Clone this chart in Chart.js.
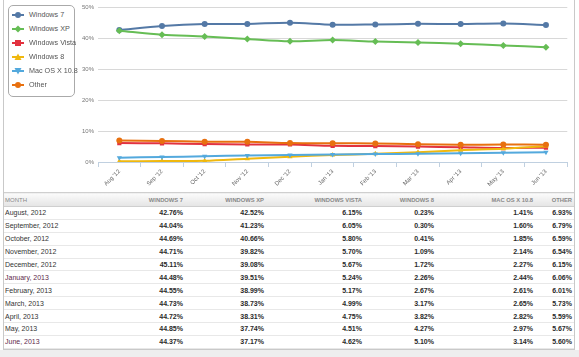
<!DOCTYPE html>
<html><head><meta charset="utf-8">
<script src="https://cdn.jsdelivr.net/npm/chart.js@4/dist/chart.umd.min.js"></script>
<style>
html,body{margin:0;padding:0;background:#fff;width:579px;height:357px;overflow:hidden;font-family:'Liberation Sans',Arial,sans-serif;}
#wrap{position:absolute;left:3px;top:0;width:570px;height:349px;border-left:1px solid #c9c9c9;border-right:1px solid #c9c9c9;border-bottom:1px solid #c9c9c9;background:#fff;}
#foot{position:absolute;left:0;top:350px;width:579px;height:7px;background:#eeeeee;}
#cv{position:absolute;left:0;top:0;}
#legend{position:absolute;left:4px;top:5px;width:65px;height:90px;border:1px solid #aaa;border-radius:5px;background:#fff;}
.li{position:absolute;left:0;height:12px;font-size:7.2px;color:#555;line-height:12px;white-space:nowrap;}
.li svg{position:absolute;left:3px;top:1px;}
.li span{position:absolute;left:20px;top:0;}
table{position:absolute;left:0;top:192px;width:570px;border-collapse:collapse;table-layout:fixed;font-size:7px;}
th{height:13px;padding:0 2px 0 1px;font-size:5.8px;font-weight:bold;color:#888;text-align:right;background:linear-gradient(#fbfbfb,#e4e4e4);border-top:1px solid #cfcfcf;border-bottom:1px solid #cfcfcf;}
th:first-child{text-align:left;font-weight:normal;font-size:6px;}
td{height:11.9px;padding:0 2px 0 1px;text-align:right;font-weight:bold;color:#2a2a2a;border-bottom:1px solid #e8e8e8;}
td:first-child{text-align:left;font-weight:normal;color:#333;}
td.lnk{color:#5e2a4c;}
</style></head>
<body>
<div id="wrap">
<canvas id="cv" width="570" height="192"></canvas>
<div id="legend"></div>
<table id="tbl"></table>
</div>
<div id="foot"></div>
<script>
const categories = ["Aug '12","Sep '12","Oct '12","Nov '12","Dec '12","Jan '13","Feb '13","Mar '13","Apr '13","May '13","Jun '13"];
const monthNames = ["August, 2012","September, 2012","October, 2012","November, 2012","December, 2012","January, 2013","February, 2013","March, 2013","April, 2013","May, 2013","June, 2013"];
const seriesNames = ["Windows 7","Windows XP","Windows Vista","Windows 8","Mac OS X 10.8","Other"];
const win7  = [42.76,44.04,44.69,44.71,45.11,44.48,44.55,44.73,44.72,44.85,44.37];
const winXP = [42.52,41.23,40.66,39.82,39.08,39.51,38.99,38.73,38.31,37.74,37.17];
const vista = [6.15,6.05,5.80,5.70,5.67,5.24,5.17,4.99,4.75,4.51,4.62];
const win8  = [0.23,0.30,0.41,1.09,1.72,2.26,2.67,3.17,3.82,4.27,5.10];
const macOS = [1.41,1.60,1.85,2.14,2.27,2.44,2.61,2.65,2.82,2.97,3.14];
const other = [6.93,6.79,6.59,6.54,6.15,6.06,6.01,5.73,5.59,5.67,5.60];
const yTicks = [0,10,20,30,40,50];

const allSeries = [win7, winXP, vista, win8, macOS, other];
const colors = ['#5479a6','#66bd55','#e2323f','#f0b80e','#53a9dd','#e8700f'];
const styles = ['circle','rectRot','rect','triangle','triangle','circle'];
const rots = [0,0,0,0,180,0];
const linked = [5,10];

const datasets = allSeries.map((d,i)=>({
  label: seriesNames[i], data: d,
  borderColor: colors[i], backgroundColor: colors[i],
  borderWidth: 2, tension: 0.3,
  pointStyle: styles[i], rotation: rots[i],
  pointRadius: i===1?3.5:3, pointBorderWidth: 0,
  pointBackgroundColor: colors[i],
  order: 5 - i
}));

new Chart(document.getElementById('cv'), {
  type: 'line',
  data: { labels: categories, datasets },
  options: {
    responsive: false, animation: false,
    layout: { padding: { left: 74, right: 6.7, top: 7, bottom: 0 } },
    plugins: { legend: { display: false }, tooltip: { enabled: false } },
    scales: {
      x: {
        offset: true,
        grid: { display: true, drawOnChartArea: false, drawTicks: true, tickLength: 5, color: '#c0d0e0', offset: true },
        border: { display: true, color: '#c0d0e0', width: 1 },
        ticks: { autoSkip: false, minRotation: 45, maxRotation: 45, padding: 1, color: '#666', font: { family: "'Liberation Sans', Arial", size: 6 } },
        afterFit: s => { s.height = 30; }
      },
      y: {
        min: 0, max: 50,
        afterBuildTicks: s => { s.ticks = yTicks.map(v => ({ value: v })); },
        grid: { color: '#d8d8d8', lineWidth: 1, drawTicks: false },
        border: { display: false },
        ticks: { padding: 4, color: '#777', font: { family: "'Liberation Sans', Arial", size: 6 }, callback: v => v + '%' },
        afterFit: s => { s.width = 20; }
      }
    }
  }
});

// HTML legend
function marker(i){
  const c = colors[i];
  let m = '';
  if (styles[i]==='circle') m = `<circle cx="6" cy="5" r="3" fill="${c}"/>`;
  else if (styles[i]==='rectRot') m = `<polygon points="6,1.5 9.5,5 6,8.5 2.5,5" fill="${c}"/>`;
  else if (styles[i]==='rect') m = `<rect x="3" y="2" width="6" height="6" fill="${c}"/>`;
  else if (rots[i]===0) m = `<polygon points="6,1.5 9.5,8 2.5,8" fill="${c}"/>`;
  else m = `<polygon points="2.5,2 9.5,2 6,8.5" fill="${c}"/>`;
  return `<svg width="12" height="10"><line x1="0" y1="5" x2="12" y2="5" stroke="${c}" stroke-width="2"/>${m}</svg>`;
}
const lg = document.getElementById('legend');
seriesNames.forEach((n,i)=>{
  const d = document.createElement('div');
  d.className = 'li';
  d.style.top = (3 + i*14) + 'px';
  d.innerHTML = marker(i) + '<span>' + n + '</span>';
  lg.appendChild(d);
});

// Table
const colW = [120,61,81,98,72,99,39];
const heads = ['MONTH','WINDOWS 7','WINDOWS XP','WINDOWS VISTA','WINDOWS 8','MAC OS X 10.8','OTHER'];
let html = '<colgroup>' + colW.map(w=>`<col style="width:${w}px">`).join('') + '</colgroup>';
html += '<tr>' + heads.map(h=>`<th>${h}</th>`).join('') + '</tr>';
monthNames.forEach((m,r)=>{
  html += '<tr><td' + (linked.includes(r)?' class="lnk"':'') + '>' + m + '</td>' +
    allSeries.map(s=>`<td>${s[r].toFixed(2)}%</td>`).join('') + '</tr>';
});
document.getElementById('tbl').innerHTML = html;
</script>
</body></html>
